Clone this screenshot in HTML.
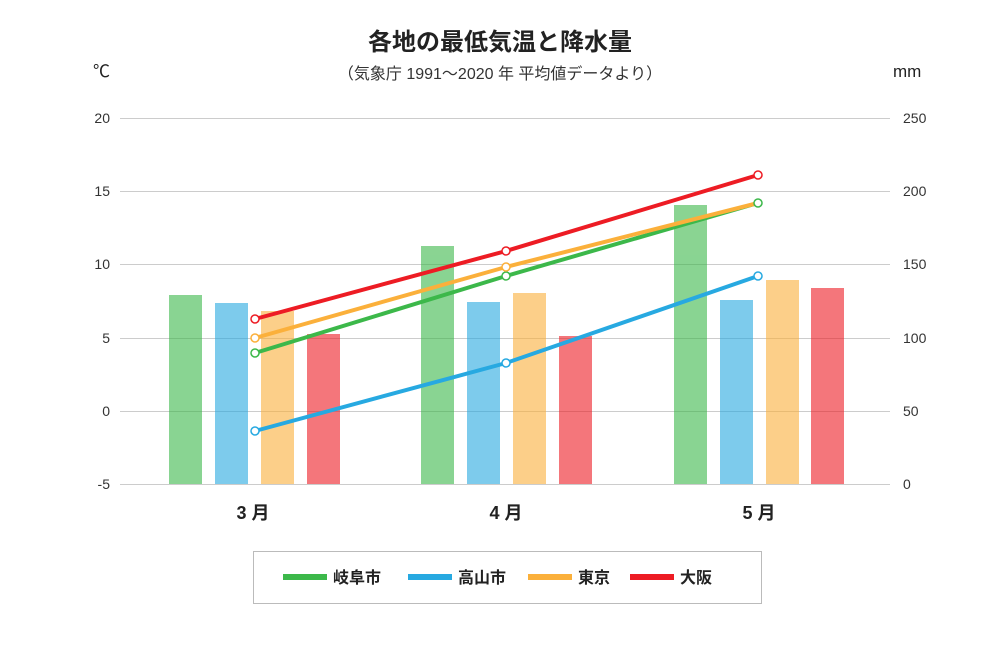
<!DOCTYPE html>
<html><head><meta charset="utf-8"><style>
body{margin:0;background:#fff;}
svg text{font-family:"Liberation Sans","Noto Sans CJK JP",sans-serif;}
</style></head><body>
<svg width="1000" height="666" viewBox="0 0 1000 666" xmlns="http://www.w3.org/2000/svg">
<rect width="1000" height="666" fill="#fff"/>
<text x="500" y="50" text-anchor="middle" font-size="24" font-weight="bold" fill="#222">各地の最低気温と降水量</text>
<text x="500" y="79" text-anchor="middle" font-size="16" fill="#333">（気象庁 1991～2020 年 平均値データより）</text>
<text x="93" y="77" font-size="17" fill="#222">℃</text>
<text x="893" y="77" font-size="17" fill="#222">mm</text>
<g stroke="#ccc" stroke-width="1">
<line x1="120" y1="118.5" x2="890" y2="118.5"/><line x1="120" y1="191.5" x2="890" y2="191.5"/>
<line x1="120" y1="264.5" x2="890" y2="264.5"/><line x1="120" y1="338.5" x2="890" y2="338.5"/>
<line x1="120" y1="411.5" x2="890" y2="411.5"/><line x1="120" y1="484.5" x2="890" y2="484.5"/>
</g>
<g font-size="14" fill="#333" text-anchor="end">
<text x="110" y="123">20</text><text x="110" y="196">15</text><text x="110" y="269">10</text>
<text x="110" y="343">5</text><text x="110" y="416">0</text><text x="110" y="489">-5</text>
</g>
<g font-size="14" fill="#333">
<text x="903" y="123">250</text><text x="903" y="196">200</text><text x="903" y="269">150</text>
<text x="903" y="343">100</text><text x="903" y="416">50</text><text x="903" y="489">0</text>
</g>
<g opacity="0.6">
<rect x="169" y="295" width="33" height="189" fill="#3cb84a"/>
<rect x="215" y="303" width="33" height="181" fill="#27a9e1"/>
<rect x="261" y="311" width="33" height="173" fill="#fbb03b"/>
<rect x="307" y="334" width="33" height="150" fill="#ed1c24"/>
<rect x="421" y="246" width="33" height="238" fill="#3cb84a"/>
<rect x="467" y="302" width="33" height="182" fill="#27a9e1"/>
<rect x="513" y="293" width="33" height="191" fill="#fbb03b"/>
<rect x="559" y="336" width="33" height="148" fill="#ed1c24"/>
<rect x="674" y="205" width="33" height="279" fill="#3cb84a"/>
<rect x="720" y="300" width="33" height="184" fill="#27a9e1"/>
<rect x="766" y="280" width="33" height="204" fill="#fbb03b"/>
<rect x="811" y="288" width="33" height="196" fill="#ed1c24"/>
</g>
<g stroke-width="4" fill="none">
<polyline points="255,431 506,363 758,276" stroke="#27a9e1"/>
<polyline points="255,353 506,276 758,203" stroke="#3cb84a"/>
<polyline points="255,338 506,267 758,203" stroke="#fbb03b"/>
<polyline points="255,319 506,251 758,175" stroke="#ed1c24"/>
</g>
<g fill="#fff" stroke-width="1.5">
<g stroke="#27a9e1"><circle cx="255" cy="431" r="4"/><circle cx="506" cy="363" r="4"/><circle cx="758" cy="276" r="4"/></g>
<g stroke="#3cb84a"><circle cx="255" cy="353" r="4"/><circle cx="506" cy="276" r="4"/><circle cx="758" cy="203" r="4"/></g>
<g stroke="#fbb03b"><circle cx="255" cy="338" r="4"/><circle cx="506" cy="267" r="4"/></g>
<g stroke="#ed1c24"><circle cx="255" cy="319" r="4"/><circle cx="506" cy="251" r="4"/><circle cx="758" cy="175" r="4"/></g>
</g>
<g font-size="18" font-weight="bold" fill="#222" text-anchor="middle">
<text x="253" y="519">3 月</text><text x="506" y="519">4 月</text><text x="759" y="519">5 月</text>
</g>
<rect x="253.5" y="551.5" width="508" height="52" fill="#fff" stroke="#bbb"/>
<g stroke-width="6">
<line x1="283" y1="577" x2="327" y2="577" stroke="#3cb84a"/>
<line x1="408" y1="577" x2="452" y2="577" stroke="#27a9e1"/>
<line x1="528" y1="577" x2="572" y2="577" stroke="#fbb03b"/>
<line x1="630" y1="577" x2="674" y2="577" stroke="#ed1c24"/>
</g>
<g font-size="16" font-weight="bold" fill="#222">
<text x="333" y="583">岐阜市</text><text x="458" y="583">高山市</text>
<text x="578" y="583">東京</text><text x="680" y="583">大阪</text>
</g>
</svg>
</body></html>
